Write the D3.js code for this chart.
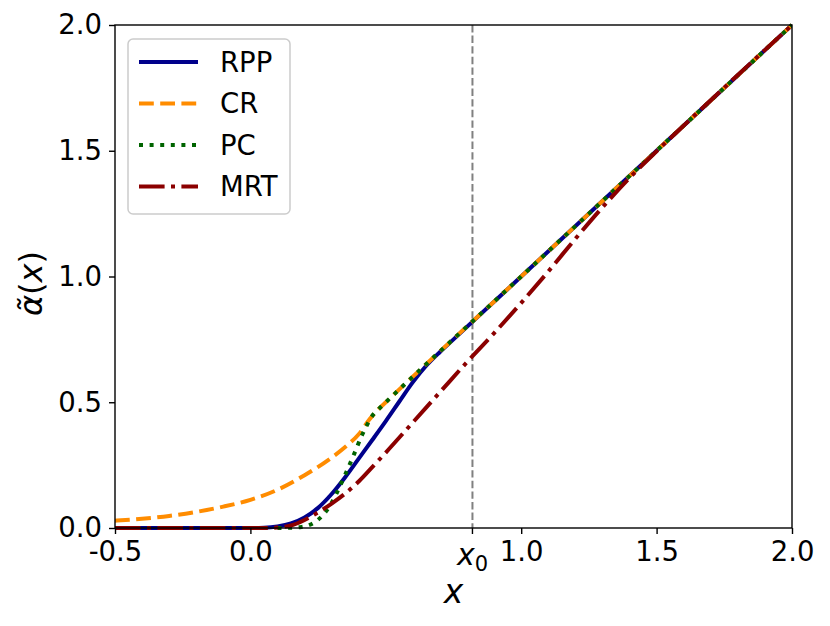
<!DOCTYPE html>
<html>
<head>
<meta charset="utf-8">
<script src="https://cdn.jsdelivr.net/npm/d3@7"></script>
<style>
  body { margin: 0; background: #fff; }
  svg { display: block; font-family: "DejaVu Sans", sans-serif; }
</style>
</head>
<body>
<svg id="chart" width="830" height="626"></svg>
<script>
// ---- data ----
const seriesNames = ["RPP", "CR", "PC", "MRT"];
const seriesColors = ["#00008B", "#FF8C00", "#006400", "#8B0000"];

const rppX = [-0.5, 0.0, 0.05, 0.1, 0.15, 0.2, 0.25, 0.3, 0.35, 0.4, 0.45, 0.5, 0.55, 0.6, 0.65, 0.7, 0.75, 1.0, 1.5, 2.0];
const rppY = [0.0, 0.0, 0.001, 0.006, 0.018, 0.042, 0.080, 0.135, 0.202, 0.276, 0.350, 0.425, 0.503, 0.580, 0.646, 0.700, 0.750, 1.0, 1.5, 2.0];

const crX = [-0.5, -0.4, -0.3, -0.2, -0.1, 0.0, 0.1, 0.2, 0.3, 0.35, 0.4, 0.44, 0.47, 0.5, 1.0, 1.5, 2.0];
const crY = [0.029, 0.037, 0.048, 0.064, 0.085, 0.112, 0.152, 0.210, 0.280, 0.322, 0.373, 0.432, 0.469, 0.5, 1.0, 1.5, 2.0];

const pcX = [0.1, 0.15, 0.18, 0.2, 0.22, 0.25, 0.28, 0.3, 0.32, 0.35, 0.38, 0.41, 0.43, 0.445, 0.47, 0.5, 1.0, 1.5, 2.0];
const pcY = [0.0, 0.001, 0.003, 0.006, 0.013, 0.033, 0.067, 0.100, 0.142, 0.212, 0.286, 0.364, 0.408, 0.438, 0.469, 0.5, 1.0, 1.5, 2.0];

const mrtX = [-0.5, 0.0, 0.05, 0.1, 0.15, 0.2, 0.25, 0.3, 0.35, 0.4, 0.45, 0.5, 0.6, 0.7, 0.8, 0.9, 1.0, 1.1, 1.2, 1.3, 1.4, 1.5, 1.6, 2.0];
const mrtY = [0.0, 0.0, 0.0, 0.002, 0.010, 0.032, 0.062, 0.097, 0.137, 0.185, 0.242, 0.300, 0.420, 0.540, 0.660, 0.775, 0.895, 1.020, 1.150, 1.275, 1.392, 1.498, 1.6, 2.0];

const xTickValues = [-0.5, 0.0, 1.0, 1.5, 2.0];
const xTickLabels = ["-0.5", "0.0", "1.0", "1.5", "2.0"];
const yTickValues = [0.0, 0.5, 1.0, 1.5, 2.0];
const yTickLabels = ["0.0", "0.5", "1.0", "1.5", "2.0"];
const x0 = 0.82;

// ---- layout ----
const W = 830, H = 626;
const margin = { left: 115, top: 25, right: 38, bottom: 98 };
const pw = W - margin.left - margin.right;
const ph = H - margin.top - margin.bottom;

const svg = d3.select("#chart");
const xScale = d3.scaleLinear().domain([-0.5, 2.0]).range([margin.left, margin.left + pw]);
const yScale = d3.scaleLinear().domain([0, 2.0]).range([margin.top + ph, margin.top]);

svg.append("defs").append("clipPath").attr("id", "clip")
  .append("rect").attr("x", margin.left).attr("y", margin.top - 2)
  .attr("width", pw).attr("height", ph + 4);

const plot = svg.append("g").attr("clip-path", "url(#clip)");

// vertical dashed line at x0
plot.append("line")
  .attr("x1", xScale(x0)).attr("x2", xScale(x0))
  .attr("y1", margin.top).attr("y2", margin.top + ph)
  .attr("stroke", "#808080").attr("stroke-width", 2)
  .attr("stroke-dasharray", "7.4,3.2");

const lw = 4;
const dashes = [null, `${3.7*lw},${1.6*lw}`, `${1*lw},${1.65*lw}`, `${6.4*lw},${1.6*lw},${1*lw},${1.6*lw}`];
const xsAll = [rppX, crX, pcX, mrtX];
const ysAll = [rppY, crY, pcY, mrtY];

const line = d3.line()
  .x(d => xScale(d[0]))
  .y(d => yScale(d[1]))
  .curve(d3.curveMonotoneX);

seriesNames.forEach((name, i) => {
  const pts = xsAll[i].map((x, j) => [x, ysAll[i][j]]);
  plot.append("path")
    .datum(pts)
    .attr("d", line)
    .attr("fill", "none")
    .attr("stroke", seriesColors[i])
    .attr("stroke-width", lw)
    .attr("stroke-dasharray", dashes[i])
    .attr("stroke-linecap", "butt")
    .attr("stroke-linejoin", "round");
});

// ---- axes ----
const tickFont = 27.5;
const xAxis = d3.axisBottom(xScale).tickValues(xTickValues)
  .tickFormat((d, i) => xTickLabels[i]).tickSize(6).tickPadding(7);
const gx = svg.append("g").attr("transform", `translate(0,${margin.top + ph})`).call(xAxis);
gx.select(".domain").remove();
gx.selectAll("line").attr("stroke", "#000").attr("stroke-width", 1.4);
gx.selectAll("text").attr("font-size", tickFont).attr("fill", "#000")
  .attr("font-family", "DejaVu Sans");

// x0 tick
const gx0 = svg.append("g").attr("transform", `translate(${xScale(x0)},${margin.top + ph})`);
gx0.append("line").attr("y2", 6).attr("stroke", "#000").attr("stroke-width", 1.4);
const x0t = gx0.append("text").attr("text-anchor", "middle").attr("y", 37)
  .attr("font-family", "DejaVu Sans").attr("fill", "#000");
x0t.append("tspan").attr("font-style", "italic").attr("font-size", 30).text("x");
x0t.append("tspan").attr("font-size", 21).attr("dy", 6).text("0");

const yAxis = d3.axisLeft(yScale).tickValues(yTickValues)
  .tickFormat((d, i) => yTickLabels[i]).tickSize(6).tickPadding(7);
const gy = svg.append("g").attr("transform", `translate(${margin.left},0)`).call(yAxis);
gy.select(".domain").remove();
gy.selectAll("line").attr("stroke", "#000").attr("stroke-width", 1.4);
gy.selectAll("text").attr("font-size", tickFont).attr("fill", "#000")
  .attr("font-family", "DejaVu Sans");

// frame
svg.append("rect")
  .attr("x", margin.left).attr("y", margin.top)
  .attr("width", pw).attr("height", ph)
  .attr("fill", "none").attr("stroke", "#000").attr("stroke-width", 1.4);

// axis labels
svg.append("text")
  .attr("x", xScale(0.75)).attr("y", 603)
  .attr("text-anchor", "middle")
  .attr("font-size", 33).attr("font-style", "italic")
  .attr("font-family", "DejaVu Sans").text("x");

const ylab = svg.append("text")
  .attr("transform", `translate(42,${margin.top + ph / 2 + 7}) rotate(-90)`)
  .attr("text-anchor", "middle")
  .attr("font-size", 32)
  .attr("font-family", "DejaVu Sans");
ylab.append("tspan").attr("font-style", "italic").text("\u03B1\u0303");
ylab.append("tspan").text("(");
ylab.append("tspan").attr("font-style", "italic").text("x");
ylab.append("tspan").text(")");

// ---- legend ----
const lg = svg.append("g");
lg.append("rect")
  .attr("x", 128).attr("y", 39).attr("width", 162).attr("height", 175)
  .attr("rx", 5).attr("ry", 5)
  .attr("fill", "#fff").attr("fill-opacity", 0.8)
  .attr("stroke", "#cccccc").attr("stroke-width", 1.5);
const rowY = [62, 103.5, 145, 186.5];
seriesNames.forEach((name, i) => {
  lg.append("line")
    .attr("x1", 139).attr("x2", 198)
    .attr("y1", rowY[i]).attr("y2", rowY[i])
    .attr("stroke", seriesColors[i]).attr("stroke-width", lw)
    .attr("stroke-dasharray", dashes[i]);
  lg.append("text")
    .attr("x", 220).attr("y", rowY[i])
    .attr("dy", "0.36em")
    .attr("font-size", tickFont)
    .attr("font-family", "DejaVu Sans")
    .text(name);
});
</script>
</body>
</html>
